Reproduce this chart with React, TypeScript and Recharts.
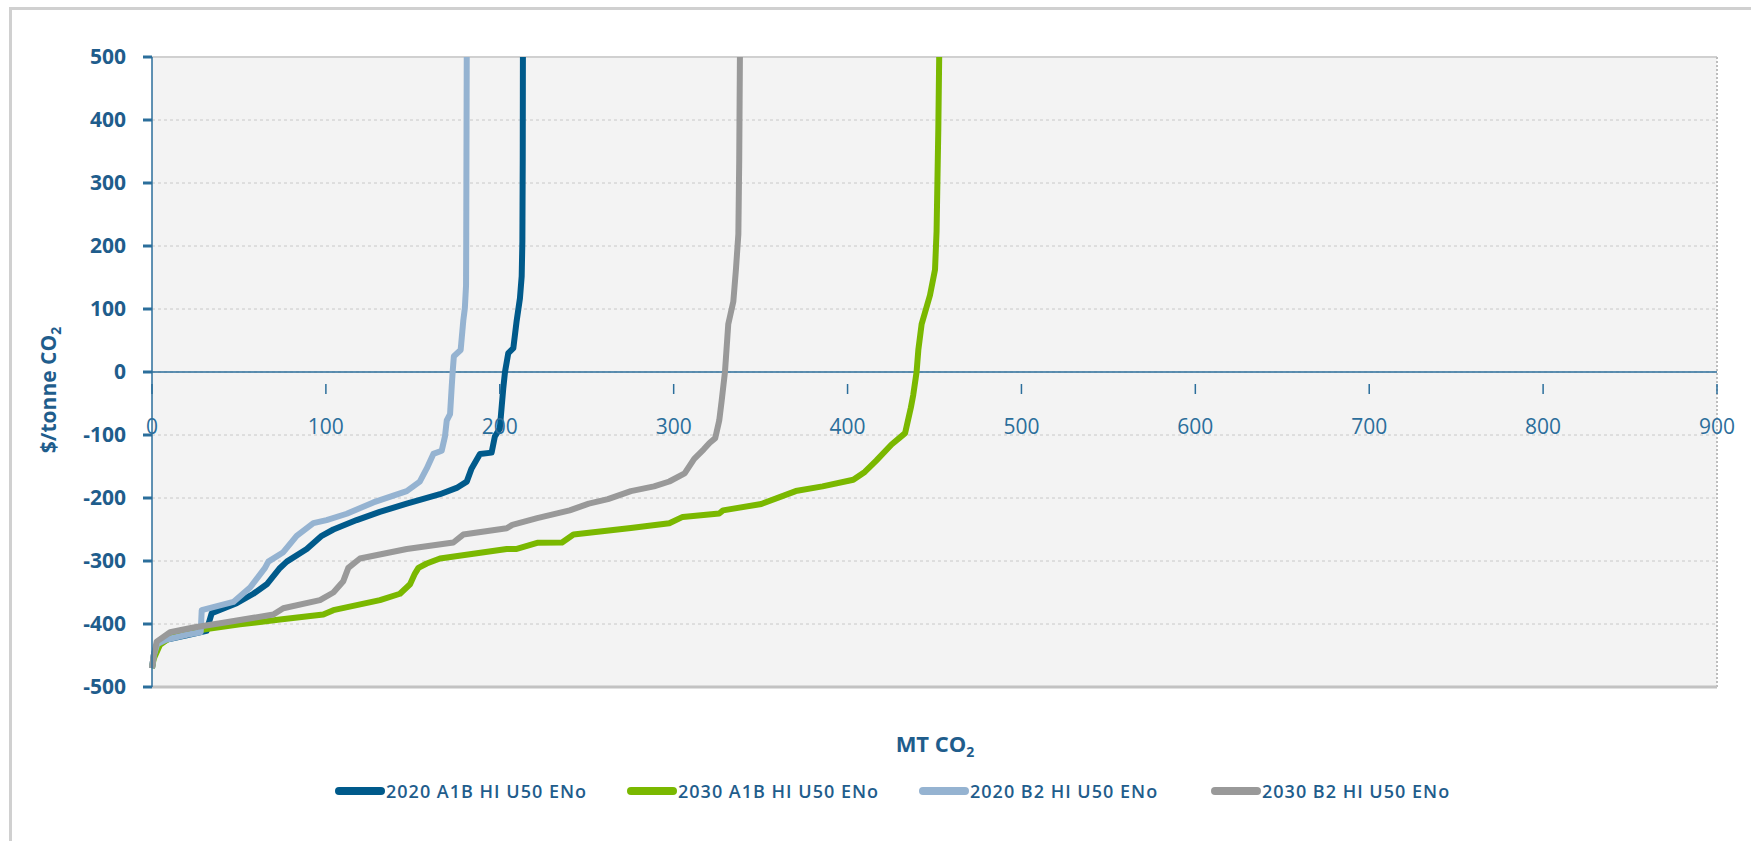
import React from 'react';
import {
  LineChart,
  Line,
  XAxis,
  YAxis,
  CartesianGrid,
  ReferenceLine,
  Legend,
} from 'recharts';

// cumulative abatement (MT CO2) and cost ($/tonne CO2)
const a1b2020X = [0, 1, 3, 8, 20, 31.4, 32.5, 34.3, 48.7, 58.3, 66, 73.6, 77.5, 89, 97.6, 104.3, 117.7, 131, 146.5, 165.6, 175.2, 181, 183.8, 188.6, 195.3, 197.2, 200, 202, 203, 204.9, 207.8, 209.7, 211.6, 212.6, 213, 213.2, 213.3];
const a1b2020Y = [-470, -450, -432, -425, -418, -411, -400, -383, -367, -352, -337, -311, -301, -281, -260, -250, -235, -222, -209, -194, -184, -174, -153, -130, -128, -102, -90, -26, 0, 30, 38, 81, 117, 152, 208, 336, 500];

const a1b2030X = [0, 1, 4.6, 12.3, 31.4, 50.6, 73.6, 98.5, 104.3, 131.1, 142.6, 148.4, 151.2, 153.2, 158, 165.6, 184.8, 204, 209.3, 222, 235.8, 242.4, 275.4, 297.5, 305.2, 326.2, 328.4, 350.4, 370.2, 385.6, 403.3, 409.9, 416.5, 425.3, 429.7, 433.1, 436.4, 437.8, 439.7, 440.7, 442.6, 447.4, 450.3, 451.2, 452.2, 452.7];
const a1b2030Y = [-470, -455, -433, -418, -408, -400.6, -393, -385, -378, -362, -352, -337, -320, -311, -304, -296, -288.5, -281, -281, -271, -270.6, -258, -247.7, -240, -230, -224.6, -219.7, -209.5, -189, -181.5, -171, -158.6, -140.7, -115, -105, -97, -56.6, -36, 0, 35, 76, 121.8, 162.5, 223.7, 386.8, 500];

const b22020X = [0, 1, 3, 8, 20, 28, 28.6, 46.8, 56.4, 65, 66.9, 75.5, 83.2, 92.8, 100.4, 112, 127.3, 146.5, 154, 158, 161.8, 166.6, 168.5, 169.5, 171.4, 172.3, 172.9, 173.6, 177.5, 179, 179.9, 180.6, 180.7, 181];
const b22020Y = [-470, -450, -432, -425, -417, -413, -378, -365, -342, -311, -301, -286, -260, -240, -235, -225, -207, -189, -174, -153, -130, -125, -102, -77, -67, -26, 0, 25, 35, 81, 101, 137, 203, 500];

const b22030X = [0, 1, 2.7, 10.4, 23.8, 41, 69.8, 75.5, 96.6, 104.3, 110, 112.9, 119.6, 146.5, 173.3, 179, 204, 207.2, 221.5, 240.2, 251.2, 262.2, 275.4, 288.7, 297.5, 306.3, 311.8, 317.3, 320.6, 323.9, 326.2, 327.6, 329.5, 331.4, 334.3, 335.8, 337.2, 337.7, 338.1];
const b22030Y = [-470, -450, -428, -413, -405.6, -398, -385, -375, -362, -350, -332, -311, -296, -281, -270.6, -258, -248, -242.6, -232, -219.7, -209, -201.8, -189, -181.5, -173.8, -161, -138, -122.8, -112.7, -105, -77, -46, 0, 76, 111.6, 162.5, 218.7, 336, 500];

const xTicks = [0, 100, 200, 300, 400, 500, 600, 700, 800, 900];
const yTicks = [-500, -400, -300, -200, -100, 0, 100, 200, 300, 400, 500];

const SERIES = [
  { name: '2020 A1B HI U50 ENo', xs: a1b2020X, ys: a1b2020Y, color: '#005a8b' },
  { name: '2030 A1B HI U50 ENo', xs: a1b2030X, ys: a1b2030Y, color: '#7ab800' },
  { name: '2020 B2 HI U50 ENo', xs: b22020X, ys: b22020Y, color: '#95b3d1' },
  { name: '2030 B2 HI U50 ENo', xs: b22030X, ys: b22030Y, color: '#999999' },
];

const TEXT = '#1f5d8c';
const AXIS = '#2b6e9b';
const FONT = '"Open Sans", "DejaVu Sans", sans-serif';

const W = 1751;
const H = 841;
const PLOT_TOP = 57;
const PLOT_BOTTOM = 711;
const PLOT_LEFT = 152;
const PLOT_RIGHT = 1717;
const Y_AXIS_W = 100;
const X_AXIS_H = 30;
const zeroY = PLOT_TOP + (PLOT_BOTTOM - PLOT_TOP) / 2;

function XTick({ x, payload }: any) {
  return (
    <g>
      <line x1={x} x2={x} y1={zeroY} y2={zeroY + 10} stroke={AXIS} strokeWidth={1.5} />
      <text x={x} y={zeroY + 50} textAnchor="middle" fill={AXIS} fontSize={21} fontFamily={FONT}>
        {payload.value}
      </text>
    </g>
  );
}

function LegendContent() {
  return (
    <div style={{ display: 'flex', fontFamily: FONT }}>
      {SERIES.map((s) => (
        <div key={s.name} style={{ width: 292, display: 'flex', alignItems: 'center' }}>
          <div style={{ width: 50, height: 8, borderRadius: 4, background: s.color }} />
          <span style={{ color: TEXT, fontSize: 18, fontWeight: 600, letterSpacing: 1, marginLeft: 1 }}>
            {s.name}
          </span>
        </div>
      ))}
    </div>
  );
}

export default function App() {
  return (
    <div style={{ position: 'absolute', left: 0, top: 0, width: W, height: H, overflow: 'hidden', background: '#fff' }}>
      <div style={{ position: 'absolute', left: 9, top: 7, width: 1800, height: 900, border: '3px solid #d0d0d0' }} />
      <div style={{ position: 'absolute', left: 0, top: 0 }}>
        <LineChart
          width={W}
          height={H}
          margin={{ top: PLOT_TOP, right: W - PLOT_RIGHT, bottom: H - PLOT_BOTTOM - X_AXIS_H, left: PLOT_LEFT - Y_AXIS_W }}
        >
          <CartesianGrid horizontal vertical={false} stroke="#c8c8c8" strokeDasharray="3 3" fill="#f3f3f3" />
          <XAxis
            type="number"
            dataKey="x"
            domain={[0, 900]}
            ticks={xTicks}
            height={X_AXIS_H}
            axisLine={{ stroke: '#c2c2c2', strokeWidth: 3 }}
            tickLine={false}
            tick={<XTick />}
            interval={0}
          />
          <YAxis
            type="number"
            dataKey="y"
            domain={[-500, 500]}
            ticks={yTicks}
            allowDataOverflow
            width={Y_AXIS_W}
            axisLine={{ stroke: AXIS, strokeWidth: 1.5 }}
            tickLine={{ stroke: AXIS, strokeWidth: 3 }}
            tickSize={9}
            tickMargin={17}
            interval={0}
            tick={{ fill: TEXT, fontSize: 21, fontWeight: 700, fontFamily: FONT }}
          />
          <ReferenceLine y={500} stroke="#d0d0d0" strokeWidth={2} />
          <ReferenceLine x={900} stroke="#bdbdbd" strokeWidth={2} strokeDasharray="2 2" />
          <ReferenceLine y={0} stroke={AXIS} strokeWidth={1.5} />
          {SERIES.map((s) => (
            <Line
              key={s.name}
              name={s.name}
              data={s.xs.map((x, i) => ({ x, y: s.ys[i] }))}
              dataKey="y"
              type="linear"
              stroke={s.color}
              strokeWidth={6}
              strokeLinejoin="round"
              dot={false}
              activeDot={false}
              isAnimationActive={false}
            />
          ))}
          <Legend
            content={<LegendContent />}
            wrapperStyle={{ position: 'absolute', left: 335, top: 779, width: 1200, height: 24 }}
          />
        </LineChart>
        <svg width={W} height={H} style={{ position: 'absolute', left: 0, top: 0, pointerEvents: 'none' }}>
          <text
            transform="translate(56, 390) rotate(-90)"
            textAnchor="middle"
            fill={TEXT}
            fontSize={21}
            fontWeight={700}
            fontFamily={FONT}
          >
            $/tonne CO<tspan fontSize={14} dy={5}>2</tspan>
          </text>
          <text x={935} y={752} textAnchor="middle" fill={TEXT} fontSize={22} fontWeight={700} fontFamily={FONT}>
            MT CO<tspan fontSize={14} dy={5}>2</tspan>
          </text>
        </svg>
      </div>
    </div>
  );
}
